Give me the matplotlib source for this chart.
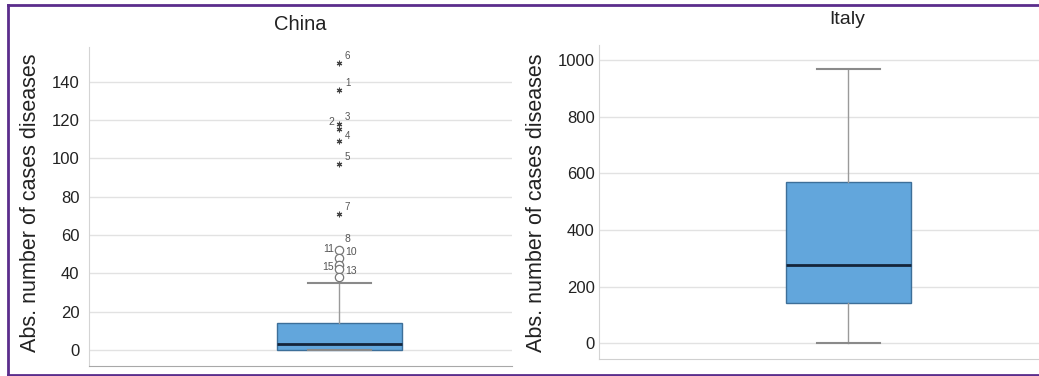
import matplotlib.pyplot as plt
from matplotlib.lines import Line2D

plt.rcParams['font.family'] = ['Liberation Sans', 'DejaVu Sans']

# ---- data ----
china_q1, china_med, china_q3 = 0, 3, 14
china_whislo, china_whishi = 0, 35
china_extremes = [149.7, 135.6, 117.9, 115.3, 109.0, 97.0, 70.8]      # stars
china_extreme_ids = ['6', '1', '3', '4', '', '5', '7']
china_outliers = [52.0, 48.0, 44.5, 42.5, 38.0]                       # circles
china_outlier_ids = ['8', '10', '', '', '13']
china_left_ids = [(117.9, '2'), (52.0, '11'), (42.5, '15')]

italy_q1, italy_med, italy_q3 = 143, 276, 570
italy_whislo, italy_whishi = 0, 968

china_ticks = [0, 20, 40, 60, 80, 100, 120, 140]
italy_ticks = [0, 200, 400, 600, 800, 1000]

ylabel = 'Abs. number of cases diseases'

W, H = 1039, 376
fig = plt.figure(figsize=(W / 100, H / 100), dpi=100)

box_face = '#62a6dc'
box_edge = '#3d6f99'
med_col = '#14243a'
whis_col = '#9a9a9a'
txt_col = '#222222'


def px_rect(l, r, t, b):
    return [l / W, (H - b) / H, (r - l) / W, (b - t) / H]


def style_axes(ax, ticks, pad, bottom_col):
    ax.set_yticks(ticks)
    ax.set_xticks([])
    ax.tick_params(axis='y', length=0, pad=pad, labelsize=12, labelcolor=txt_col)
    ax.grid(axis='y', color='#e2e2e2', linewidth=1)
    ax.set_axisbelow(True)
    for s in ['top', 'right']:
        ax.spines[s].set_visible(False)
    ax.spines['left'].set_color('#d4d4d4')
    ax.spines['bottom'].set_color(bottom_col)


def draw_box(ax, q1, med, q3, lo, hi, width):
    stats = [dict(q1=q1, med=med, q3=q3, whislo=lo, whishi=hi, fliers=[])]
    ax.bxp(stats, positions=[1], widths=width, capwidths=width / 2,
           patch_artist=True, showfliers=False, manage_ticks=False,
           boxprops=dict(facecolor=box_face, edgecolor=box_edge, linewidth=1),
           medianprops=dict(color=med_col, linewidth=2),
           whiskerprops=dict(color=whis_col, linewidth=1),
           capprops=dict(color='#8a8a8a', linewidth=1.5))


# ---- China ----
ax1 = fig.add_axes(px_rect(89, 512, 47, 366))
draw_box(ax1, china_q1, china_med, china_q3, china_whislo, china_whishi, 0.2955)
style_axes(ax1, china_ticks, 7, '#a8a8a8')
ax1.set_xlim(1 - 0.592, 1 + 0.408)
ax1.set_ylim(-8.35, 158.1)

ax1.plot([1] * len(china_extremes), china_extremes, linestyle='none',
         marker=(6, 2, 0), markersize=4, markeredgewidth=0.8, color='#444444')
ax1.plot([1] * len(china_outliers), china_outliers, linestyle='none',
         marker='o', markersize=6, markerfacecolor='white',
         markeredgecolor='#777777', markeredgewidth=0.9)
offsets = {'3': (4, 3), '4': (4, -7)}
for v, t in zip(china_extremes, china_extreme_ids):
    if t:
        ax1.annotate(t, (1, v), xytext=offsets.get(t, (4, 3)), textcoords='offset points',
                     fontsize=7, color='#555555')
for v, t in zip(china_outliers, china_outlier_ids):
    if t:
        ax1.annotate(t, (1, v), xytext=(4, 2 if t != '8' else 6),
                     textcoords='offset points', fontsize=7.5, color='#555555')
for v, t in china_left_ids:
    ax1.annotate(t, (1, v), xytext=(-4, -1), textcoords='offset points',
                 fontsize=7.5, color='#555555', ha='right')

fig.text(300 / W, 1 - 25 / H, 'China', ha='center', va='center',
         fontsize=14.5, color=txt_col)
fig.text(31 / W, 1 - 203 / H, ylabel, rotation=90, ha='center', va='center',
         fontsize=15.5, color=txt_col)

# ---- Italy ----
ax2 = fig.add_axes(px_rect(599, 1039, 45, 359))
draw_box(ax2, italy_q1, italy_med, italy_q3, italy_whislo, italy_whishi, 0.284)
style_axes(ax2, italy_ticks, 3, '#d0d0d0')
ax2.set_xlim(1 - 0.567, 1 + 0.433)
ax2.set_ylim(-55.4, 1053)

fig.text(847 / W, 1 - 20 / H, 'Italy', ha='center', va='center',
         fontsize=14, color=txt_col)
fig.text(537 / W, 1 - 203 / H, ylabel, rotation=90, ha='center', va='center',
         fontsize=15.5, color=txt_col)

# ---- purple frame (top, left, bottom) ----
frame = '#5b2d8c'
fig.add_artist(Line2D([7.5 / W, 1], [1 - 4.5 / H, 1 - 4.5 / H], color=frame, linewidth=2))
fig.add_artist(Line2D([7.5 / W, 7.5 / W], [1 - 4.5 / H, 1 - 375 / H], color=frame, linewidth=2))
fig.add_artist(Line2D([7.5 / W, 1], [1 - 375 / H, 1 - 375 / H], color=frame, linewidth=2))

fig.savefig('out.png', dpi=100)
